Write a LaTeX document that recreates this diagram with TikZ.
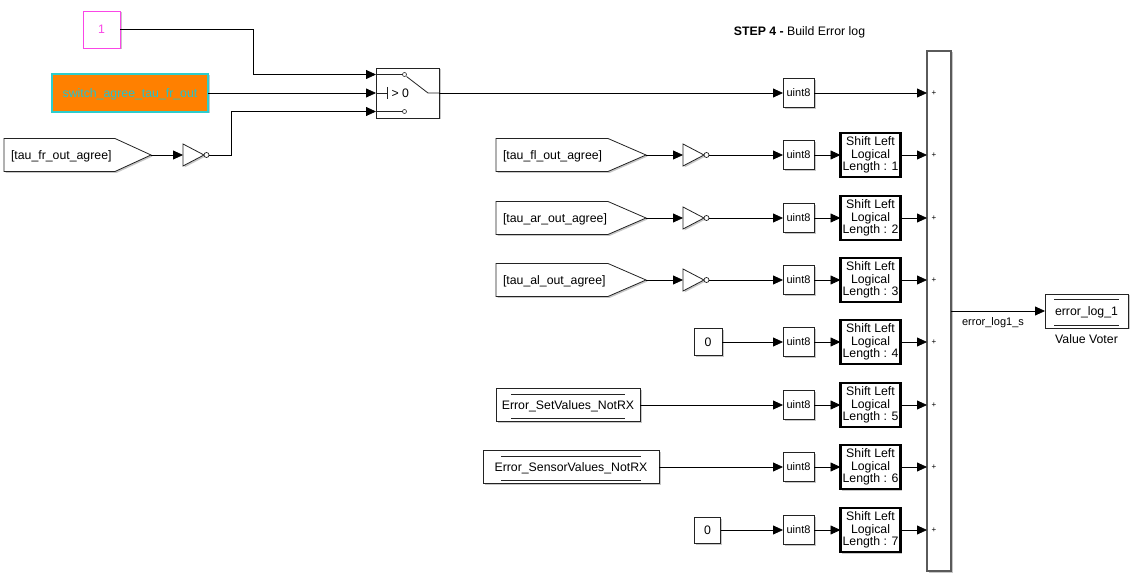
\documentclass[tikz,border=0pt]{standalone}
\usepackage{fontspec}
\setmainfont{Liberation Sans}
\usetikzlibrary{arrows.meta,shadows}

\definecolor{blkgray}{RGB}{35,35,35}
\definecolor{sumgray}{RGB}{90,90,90}
\definecolor{constpink}{RGB}{250,70,230}
\definecolor{orangefill}{RGB}{255,128,0}
\definecolor{tealedge}{RGB}{45,205,205}
\definecolor{tealtext}{RGB}{35,195,205}

% From-tag: pentagon pointing right; #1 name, #2 left x, #3 slant start x, #4 tip x, #5 centre y, #6 text
\newcommand\fromtag[6]{%
  \fill[black,opacity=0.22] (#2+1.5,#5-15) -- (#3+1.5,#5-15) -- (#4+1.5,#5+1.5) -- (#3+1.5,#5+18) -- (#2+1.5,#5+18) -- cycle;
  \draw[blkgray,fill=white,line width=0.8pt] (#2,#5-16.5) -- (#3,#5-16.5) -- (#4,#5) -- (#3,#5+16.5) -- (#2,#5+16.5) -- cycle;
  \node[lbl,anchor=west] (#1-text) at (#2+7,#5) {#6};
  \coordinate (#1) at (#4,#5);
}
% Logical NOT gate: #1 name, #2 left x, #3 centre y
\newcommand\notgate[3]{%
  \fill[black,opacity=0.22] (#2+1.5,#3-9.5) -- (#2+22.5,#3+1.5) -- (#2+1.5,#3+12.5) -- cycle;
  \draw[blkgray,fill=white,line width=0.8pt] (#2,#3-11) -- (#2+21,#3) -- (#2,#3+11) -- cycle;
  \draw[blkgray,fill=white,line width=0.7pt] (#2+23.5,#3) circle[radius=2.5pt];
  \coordinate (#1-in) at (#2,#3);
  \coordinate (#1-out) at (#2+26,#3);
}
% Data store read block decoration lines: #1 node, #2 horizontal inset
\newcommand\storelines[2]{%
  \draw[blkgray,line width=0.7pt] ([xshift=#2pt,yshift=-5.5pt]#1.north west) -- ([xshift=-#2pt,yshift=-5.5pt]#1.north east);
  \draw[blkgray,line width=0.7pt] ([xshift=#2pt,yshift=3pt]#1.south west) -- ([xshift=-#2pt,yshift=3pt]#1.south east);
}

\begin{document}
\begin{tikzpicture}[x=1pt,y=-1pt,
  every node/.style={inner sep=0pt,outer sep=0pt},
  lbl/.style={font=\fontsize{12.3}{14}\selectfont,text height=8.8pt,text depth=0pt},
  smalltxt/.style={font=\fontsize{11}{13}\selectfont,text height=7.9pt,text depth=0pt},
  plusmark/.style={font=\fontsize{8}{8}\selectfont},
  bshadow/.style={drop shadow={shadow xshift=1.5pt,shadow yshift=-1.5pt,fill=black,opacity=0.22}},
  blk/.style={draw=blkgray,fill=white,line width=0.8pt,bshadow,lbl},
  u8/.style={blk,smalltxt,minimum width=31pt,minimum height=29pt},
  shl/.style={draw=black,fill=white,bshadow,line width=2.4pt,minimum width=60pt,minimum height=44pt,
              align=center,font=\fontsize{12.3}{12.6}\selectfont},
  wire/.style={line width=0.8pt,-{Triangle[length=10pt,width=9pt]}},
  plain/.style={line width=0.8pt,blkgray},
]
\fill[white] (0,0) rectangle (1136,577);
\useasboundingbox (0,0) rectangle (1136,577);

% ---------- title ----------
\node[font=\fontsize{12.3}{14}\selectfont,anchor=base] (title) at (799.5,35.5) {\textbf{STEP 4 -} Build Error log};

% ---------- sum block ----------
\node[draw=sumgray,fill=white,line width=1.3pt,bshadow,minimum width=24pt,minimum height=520pt] (sum) at (939,311) {};

% ---------- switch stage ----------
\node[blk,draw=constpink,text=constpink,minimum width=37pt,minimum height=37pt] (one) at (101.5,29.5) {1};
\node[blk,draw=tealedge,fill=orangefill,text=tealtext,line width=1.2pt,minimum width=156pt,minimum height=38pt] (swagree) at (130,93) {switch\_agree\_tau\_fr\_out};

\node[blk,minimum width=63pt,minimum height=50pt] (sw) at (407.5,93) {};
\coordinate (sw1) at ([yshift=18.5pt]sw.west);
\coordinate (sw3) at ([yshift=-18.5pt]sw.west);
% switch symbol
\draw[plain] (377,74.5) -- (402.5,74.5);
\draw[plain,fill=white,line width=0.6pt] (404.5,74.5) circle[radius=2pt];
\draw[plain] (377,111.5) -- (402.5,111.5);
\draw[plain,fill=white,line width=0.6pt] (404.5,111.5) circle[radius=2pt];
\draw[plain] (377,93) -- (387,93);
\draw[plain] (387,87) -- (387,99);
\node[lbl,anchor=west] (swcond) at (391.5,93) {> 0};
\draw[plain] (406.5,76.5) -- (428,93) -- (439,93);

\fromtag{frtag}{4}{115}{151}{155}{[tau\_fr\_out\_agree]}
\notgate{nfr}{183}{155}

\draw[wire] (one.east) -- ++(133,0) |- (sw1);
\draw[wire] (swagree.east) -- (sw.west);
\draw[wire] (frtag) -- (nfr-in);
\draw[wire] (nfr-out) -- ++(22,0) |- (sw3);

% ---------- bit 0 ----------
\node[u8] (u0) at (798.5,93) {uint8};
\draw[wire] (sw.east) -- (u0.west);
\draw[wire] (u0.east) -- (u0.east -| sum.west);
\node[plusmark] (p0) at (934,93) {+};

% ---------- bits 1..7 ----------
\foreach \i/\y in {1/155,2/218,3/280,4/342,5/405,6/467,7/530} {
  \node[u8] (u\i) at (798.5,\y) {uint8};
  \node[shl] (s\i) at (870.5,\y) {Shift Left\\Logical\\Length : \i};
  \draw[wire] (u\i.east) -- (s\i.west);
  \draw[wire] (s\i.east) -- (s\i.east -| sum.west);
  \node[plusmark] (p\i) at (934,\y) {+};
}

% sources for bits 1..3
\fromtag{fltag}{496}{608}{646}{155}{[tau\_fl\_out\_agree]}
\fromtag{artag}{496}{608}{646}{218}{[tau\_ar\_out\_agree]}
\fromtag{altag}{496}{608}{646}{280}{[tau\_al\_out\_agree]}
\notgate{nfl}{683}{155}
\notgate{nar}{683}{218}
\notgate{nal}{683}{280}
\draw[wire] (fltag) -- (nfl-in);
\draw[wire] (artag) -- (nar-in);
\draw[wire] (altag) -- (nal-in);
\draw[wire] (nfl-out) -- (u1.west);
\draw[wire] (nar-out) -- (u2.west);
\draw[wire] (nal-out) -- (u3.west);

% sources for bits 4..7
\node[blk,minimum width=28pt,minimum height=27pt] (zero4) at (708,342) {0};
\node[blk,minimum width=144pt,minimum height=33pt] (setv) at (568,405) {Error\_SetValues\_NotRX};
\storelines{setv}{15}
\node[blk,minimum width=176pt,minimum height=33pt] (sensv) at (571,467) {Error\_SensorValues\_NotRX};
\storelines{sensv}{18}
\node[blk,minimum width=26pt,minimum height=26pt] (zero7) at (707.5,530) {0};
\draw[wire] (zero4.east) -- (u4.west);
\draw[wire] (setv.east) -- (u5.west);
\draw[wire] (sensv.east) -- (u6.west);
\draw[wire] (zero7.east) -- (u7.west);

% ---------- output ----------
\node[blk,minimum width=83pt,minimum height=34pt] (vv) at (1086.5,311) {error\_log\_1};
\storelines{vv}{9}
\node[lbl] (vvlabel) at (1086.5,339) {Value Voter};
\draw[wire] (sum.east |- vv.west) -- (vv.west);
\node[smalltxt] (loglbl) at (993,321.5) {error\_log1\_s};
\end{tikzpicture}
\end{document}
